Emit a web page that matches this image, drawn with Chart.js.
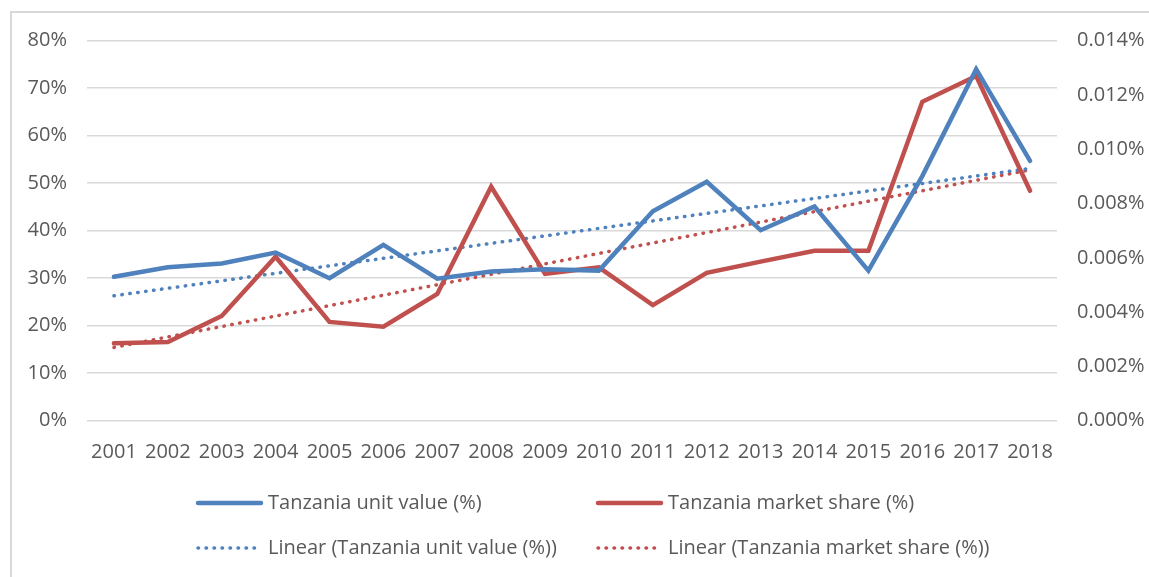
<!DOCTYPE html>
<html>
<head>
<meta charset="utf-8">
<script src="https://cdn.jsdelivr.net/npm/chart.js@4/dist/chart.umd.min.js"></script>
<style>
html,body{margin:0;padding:0;background:#fff;}
#wrap{position:relative;width:1149px;height:577px;overflow:hidden;background:#fff;}
#frame{position:absolute;left:10px;top:11px;right:-5px;bottom:-5px;border-left:2px solid #d9d9d9;border-top:2px solid #d9d9d9;}
#c{position:absolute;left:0;top:0;}
</style>
</head>
<body>
<div id="wrap"><div id="frame"></div><canvas id="c" width="1149" height="577" style="width:1149px;height:577px"></canvas></div>
<script>
// ---- data ----
const years = ['2001','2002','2003','2004','2005','2006','2007','2008','2009','2010','2011','2012','2013','2014','2015','2016','2017','2018'];
// Tanzania unit value, in %
const unitValue = [30.3, 32.3, 33.1, 35.4, 30.0, 37.0, 29.9, 31.4, 31.9, 31.6, 44.1, 50.3, 40.1, 45.1, 31.6, 51.5, 74.0, 54.7];
// Tanzania market share, in %
const marketShare = [0.00285, 0.0029, 0.00386, 0.00604, 0.00364, 0.00346, 0.00467, 0.00862, 0.00541, 0.00565, 0.00426, 0.00545, 0.00586, 0.00626, 0.00626, 0.01175, 0.0127, 0.00847];
// Linear trend lines: end points
const unitValueTrend = [26.3, null, null, null, null, null, null, null, null, null, null, null, null, null, null, null, null, 53.1];
const marketShareTrend = [0.0027, null, null, null, null, null, null, null, null, null, null, null, null, null, null, null, null, 0.00924];
// axis ranges
const leftAxisMax = 80, leftAxisStep = 10;
const rightAxisMax = 0.014, rightAxisStep = 0.002;
const seriesNames = ['Tanzania unit value (%)', 'Tanzania market share (%)', 'Linear (Tanzania unit value (%))', 'Linear (Tanzania market share (%))'];

const BLUE = '#4F81BD', RED = '#C0504D', TEXT = '#595959', GRID = '#d9d9d9';
const FONT = '"Open Sans", "Noto Sans", sans-serif';

const gridLegend = {
  id: 'gridLegend',
  afterDraw(chart) {
    const ctx = chart.ctx;
    const slots = [[196, 503], [596, 503], [196, 548], [596, 548]];
    chart.data.datasets.forEach((ds, i) => {
      const [x0, y] = slots[i];
      ctx.save();
      ctx.strokeStyle = ds.borderColor;
      ctx.lineWidth = ds.borderWidth;
      ctx.lineCap = 'round';
      ctx.setLineDash(ds.borderDash || []);
      ctx.beginPath();
      ctx.moveTo(x0 + 2, y);
      ctx.lineTo(x0 + 65, y);
      ctx.stroke();
      ctx.setLineDash([]);
      ctx.fillStyle = TEXT;
      ctx.font = '20px ' + FONT;
      ctx.textBaseline = 'middle';
      ctx.textAlign = 'left';
      ctx.fillText(ds.label, x0 + 72, y);
      ctx.restore();
    });
  }
};

new Chart(document.getElementById('c'), {
  type: 'line',
  data: {
    labels: years,
    datasets: [
      { label: seriesNames[0], data: unitValue, yAxisID: 'y', borderColor: BLUE, borderWidth: 4.5, pointRadius: 0, tension: 0, borderCapStyle: 'round', borderJoinStyle: 'miter' },
      { label: seriesNames[1], data: marketShare, yAxisID: 'y1', borderColor: RED, borderWidth: 4.5, pointRadius: 0, tension: 0, borderCapStyle: 'round', borderJoinStyle: 'miter' },
      { label: seriesNames[2], data: unitValueTrend, yAxisID: 'y', borderColor: BLUE, borderWidth: 3.5, borderDash: [0.5, 7.5], borderCapStyle: 'round', pointRadius: 0, spanGaps: true },
      { label: seriesNames[3], data: marketShareTrend, yAxisID: 'y1', borderColor: RED, borderWidth: 3.5, borderDash: [0.5, 7.5], borderCapStyle: 'round', pointRadius: 0, spanGaps: true }
    ]
  },
  options: {
    responsive: false,
    animation: false,
    layout: { padding: { left: 0, right: 0, top: 40.7, bottom: 116.3 } },
    plugins: { legend: { display: false }, tooltip: { enabled: false } },
    scales: {
      x: {
        offset: true,
        grid: { display: false, drawTicks: false },
        border: { display: false },
        ticks: { color: TEXT, font: { family: FONT, size: 20 }, padding: 20, maxRotation: 0, autoSkip: false },
        afterFit(s) { s.height = 40; }
      },
      y: {
        position: 'left',
        min: 0, max: leftAxisMax,
        grid: { color: GRID, lineWidth: 1.5, drawTicks: false },
        border: { display: false },
        ticks: { stepSize: leftAxisStep, color: TEXT, font: { family: FONT, size: 20 }, padding: 20, callback: v => v + '%' },
        afterFit(s) { s.width = 87; }
      },
      y1: {
        position: 'right',
        min: 0, max: rightAxisMax,
        grid: { display: false, drawTicks: false },
        border: { display: false },
        ticks: { stepSize: rightAxisStep, color: TEXT, font: { family: FONT, size: 20 }, padding: 20, callback: v => v.toFixed(3) + '%' },
        afterFit(s) { s.width = 92; }
      }
    }
  },
  plugins: [gridLegend]
});
</script>
</body>
</html>
